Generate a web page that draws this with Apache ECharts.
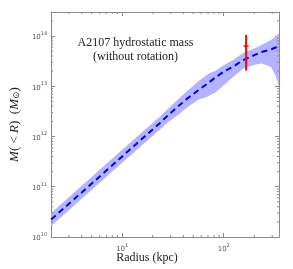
<!DOCTYPE html>
<html>
<head>
<meta charset="utf-8">
<script src="https://cdn.jsdelivr.net/npm/echarts@6/dist/echarts.min.js"></script>
<style>
html,body{margin:0;padding:0;background:#fff;}
#chart{width:293px;height:269px;}
</style>
</head>
<body>
<div id="chart"></div>
<script>
// ---- data ----
const radius    = [2, 4, 8, 15.8, 23.6, 28.2, 35.5, 44.7, 56.2, 70.8, 83.2, 100, 126, 155, 200, 236, 291, 323, 350];
const massBest  = [2.24e10, 7.7e10, 2.68e11, 9.12e11, 1.86e12, 2.63e12, 3.98e12, 5.89e12, 8.32e12, 1.17e13, 1.51e13, 1.95e13, 2.51e13, 3.31e13, 4.17e13, 4.79e13, 5.37e13, 5.89e13, 6.17e13];
const massUpper = [3.02e10, 1.05e11, 3.63e11, 1.23e12, 2.51e12, 3.55e12, 5.50e12, 8.32e12, 1.26e13, 1.78e13, 2.04e13, 2.63e13, 3.39e13, 4.57e13, 5.62e13, 6.61e13, 8.32e13, 9.55e13, 1.15e14];
const massLower = [1.66e10, 5.75e10, 2.00e11, 6.76e11, 1.38e12, 1.91e12, 2.69e12, 3.89e12, 5.37e12, 6.31e12, 7.59e12, 1.05e13, 1.58e13, 2.24e13, 2.69e13, 2.82e13, 2.45e13, 1.66e13, 9.77e12];

const obsRadius = [166];
const obsMass   = [6.3e13];
const obsLow    = [2.05e13];
const obsHigh   = [1.05e14];

const xMin = 2, xMax = 350;
const yMin = 1e10, yMax = 3e14;
const xMinorTicks = [3, 4, 5, 6, 7, 8, 9, 20, 30, 40, 50, 60, 70, 80, 90, 200, 300];
const yMinorTicks = [];
[1e10, 1e11, 1e12, 1e13, 1e14].forEach(d => { for (let k = 2; k <= 9; k++) { if (d * k < yMax) yMinorTicks.push(d * k); } });

const titleLines = ['A2107 hydrostatic mass', '(without rotation)'];
const xAxisTitle = 'Radius (kpc)';

const axisGray = '#8a8a8a';
const labelGray = '#555';
const serif = '"Liberation Serif", "DejaVu Serif", serif';

function powLabel(v) {
  const e = Math.round(Math.log10(v));
  return '{b|10}{s|' + e + '}';
}
const powRich = {
  b: { fontSize: 7, color: labelGray, fontFamily: 'DejaVu Sans', lineHeight: 10, verticalAlign: 'bottom' },
  s: { fontSize: 5, color: labelGray, fontFamily: 'DejaVu Sans', lineHeight: 10, verticalAlign: 'top' }
};

const chart = echarts.init(document.getElementById('chart'), null, { renderer: 'canvas' });

const commonAxis = {
  axisLine: { show: true, lineStyle: { color: axisGray, width: 1 } },
  axisTick: { show: true, inside: true, length: 4, lineStyle: { color: axisGray, width: 1 } },
  splitLine: { show: false },
  minorTick: { show: false },
  minorSplitLine: { show: false }
};

chart.setOption({
  animation: false,
  backgroundColor: '#fff',
  grid: { left: 32, right: 14, top: 12, bottom: 32, containLabel: false },
  xAxis: [
    Object.assign({}, commonAxis, {
      type: 'log', logBase: 10, min: xMin, max: xMax, position: 'bottom',
      axisLabel: { show: true, formatter: powLabel, rich: powRich, margin: 6, showMinLabel: false, showMaxLabel: false }
    }),
    Object.assign({}, commonAxis, {
      type: 'log', logBase: 10, min: xMin, max: xMax, position: 'top',
      axisLabel: { show: false }
    })
  ],
  yAxis: [
    Object.assign({}, commonAxis, {
      type: 'log', logBase: 10, min: yMin, max: yMax, position: 'left',
      axisLabel: { show: true, formatter: powLabel, rich: powRich, margin: 4, showMinLabel: true, showMaxLabel: false },
      name: '{i|M}{n|( < }{i|R}{n|)  (}{i|M}{sub|⊙}{n|)}',
      nameLocation: 'middle', nameRotate: 90, nameGap: 18,
      nameTextStyle: {
        rich: {
          i: { fontFamily: serif, fontStyle: 'italic', fontSize: 13, color: '#222' },
          n: { fontFamily: serif, fontSize: 13, color: '#222' },
          sub: { fontFamily: serif, fontSize: 9, color: '#222', verticalAlign: 'bottom', lineHeight: 9, padding: [4, 0, 0, 0] }
        }
      }
    }),
    Object.assign({}, commonAxis, {
      type: 'log', logBase: 10, min: yMin, max: yMax, position: 'right',
      axisLabel: { show: false }
    })
  ],
  graphic: [
    { type: 'text', style: { text: titleLines[0], x: 135.5, y: 43, align: 'center', verticalAlign: 'middle', font: '12px ' + serif, fill: '#222' } },
    { type: 'text', style: { text: titleLines[1], x: 135.5, y: 57, align: 'center', verticalAlign: 'middle', font: '12px ' + serif, fill: '#222' } },
    { type: 'text', style: { text: xAxisTitle, x: 147, y: 258, align: 'center', verticalAlign: 'middle', font: '12px ' + serif, fill: '#222' } }
  ],
  series: [
    {
      type: 'custom', name: 'band', xAxisIndex: 0, yAxisIndex: 0, z: 1, silent: true, clip: true,
      data: [[radius[0], massBest[0]]],
      renderItem: function (params, api) {
        const pts = [];
        for (let i = 0; i < radius.length; i++) pts.push(api.coord([radius[i], massUpper[i]]));
        for (let i = radius.length - 1; i >= 0; i--) pts.push(api.coord([radius[i], massLower[i]]));
        return { type: 'polygon', shape: { points: pts }, style: { fill: '#b3b3ff', stroke: null } };
      }
    },
    {
      type: 'line', name: 'best', xAxisIndex: 0, yAxisIndex: 0, z: 2, silent: true,
      data: radius.map((r, i) => [r, massBest[i]]),
      showSymbol: false, symbol: 'none',
      lineStyle: { color: '#0000f0', width: 2, type: [6, 4] }
    },
    {
      type: 'custom', name: 'obs', xAxisIndex: 0, yAxisIndex: 0, z: 3, silent: true,
      data: obsRadius.map((r, i) => [r, obsMass[i], obsLow[i], obsHigh[i]]),
      renderItem: function (params, api) {
        const c = api.coord([api.value(0), api.value(1)]);
        const lo = api.coord([api.value(0), api.value(2)]);
        const hi = api.coord([api.value(0), api.value(3)]);
        return {
          type: 'group', children: [
            { type: 'line', shape: { x1: lo[0], y1: lo[1], x2: hi[0], y2: hi[1] }, style: { stroke: '#ff0000', lineWidth: 2 } },
            { type: 'line', shape: { x1: c[0] - 2.5, y1: c[1], x2: c[0] + 2.5, y2: c[1] }, style: { stroke: '#ff0000', lineWidth: 1.5 } }
          ]
        };
      }
    },
    {
      type: 'custom', name: 'xminor', xAxisIndex: 0, yAxisIndex: 0, z: 4, silent: true, clip: false,
      data: xMinorTicks.map(v => [v, yMin]),
      renderItem: function (params, api) {
        const b = api.coord([api.value(0), yMin]);
        const t = api.coord([api.value(0), yMax]);
        return { type: 'group', children: [
          { type: 'line', shape: { x1: b[0], y1: b[1], x2: b[0], y2: b[1] - 2 }, style: { stroke: axisGray, lineWidth: 1 } },
          { type: 'line', shape: { x1: t[0], y1: t[1], x2: t[0], y2: t[1] + 2 }, style: { stroke: axisGray, lineWidth: 1 } }
        ] };
      }
    },
    {
      type: 'custom', name: 'yminor', xAxisIndex: 0, yAxisIndex: 0, z: 4, silent: true, clip: false,
      data: yMinorTicks.map(v => [xMin, v]),
      renderItem: function (params, api) {
        const l = api.coord([xMin, api.value(1)]);
        const r = api.coord([xMax, api.value(1)]);
        return { type: 'group', children: [
          { type: 'line', shape: { x1: l[0], y1: l[1], x2: l[0] + 2, y2: l[1] }, style: { stroke: axisGray, lineWidth: 1 } },
          { type: 'line', shape: { x1: r[0], y1: r[1], x2: r[0] - 2, y2: r[1] }, style: { stroke: axisGray, lineWidth: 1 } }
        ] };
      }
    }
  ]
});
</script>
</body>
</html>
